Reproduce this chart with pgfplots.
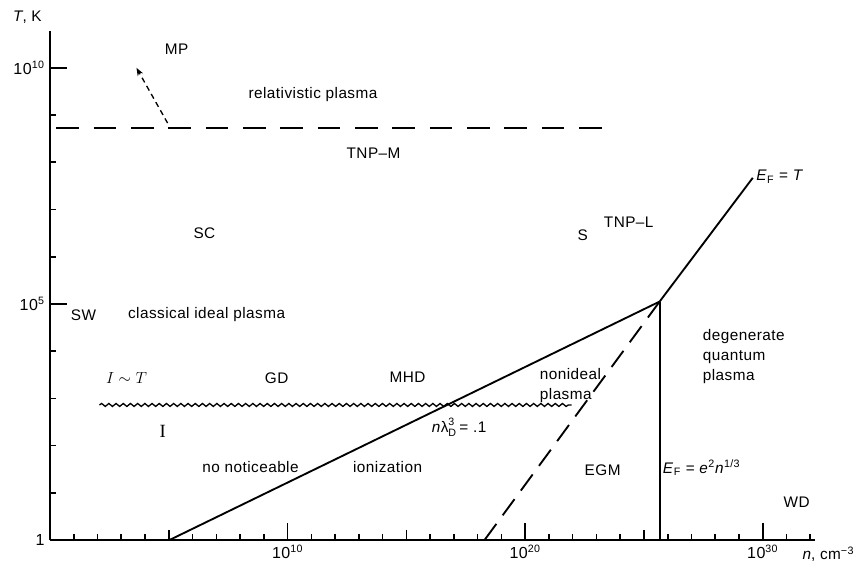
\documentclass[border=0pt]{standalone}
\usepackage{fontspec}
\setmainfont{Liberation Sans}[LetterSpace=3]
\newfontfamily\serifI{Liberation Serif}
\usepackage{pgfplots}
\pgfplotsset{compat=1.18}
\usetikzlibrary{calc,arrows.meta,decorations.pathmorphing}

\begin{document}
\fontsize{11.5}{15}\selectfont
\begin{tikzpicture}[font=\fontsize{11.5}{15}\selectfont]
\begin{axis}[name=ax, scale only axis, width=573.75pt, height=381.75pt,
  xmin=0, xmax=32.2, ymin=0, ymax=10.78,
  axis x line=bottom, axis y line=left,
  axis line style={-, line width=1.5pt},
  tick align=inside,
  tick label style={font=\fontsize{12}{14}\selectfont},
  xtick={10,20,30},
  xticklabels={10\textsuperscript{10},10\textsuperscript{20},10\textsuperscript{30}},
  minor xtick={1,2,3,4,6,7,8,9,11,12,13,14,16,17,18,19,21,22,23,24,26,27,28,29,31,32},
  extra x ticks={5,15,25}, extra x tick labels={},
  extra x tick style={major tick length=7.5pt},
  ytick={0,5,10},
  yticklabels={1,10\textsuperscript{5},10\textsuperscript{10}},
  minor ytick={1,2,3,4,6,7,8,9},
  major tick length=13pt, minor tick length=4.5pt,
  tick style={line width=1.2pt, black},
  clip=false,
]
% relativistic boundary
\addplot[line width=1.4pt, dash pattern=on 17pt off 11pt] coordinates {(0.27,8.73) (23.81,8.73)};
% MP arrow
\addplot[line width=1pt, dash pattern=on 4pt off 3pt, -{Stealth[length=6pt,width=4.5pt]}] coordinates {(4.95,8.83) (3.64,10.0)};
% n lambda_D^3 = .1 and E_F = T
\addplot[line width=1.4pt] coordinates {(5.03,0) (25.66,5.05) (29.58,7.67)};
% E_F = e^2 n^{1/3}
\addplot[line width=1.6pt] coordinates {(25.66,0) (25.66,5.05)};
% nonideal boundary
\addplot[line width=1.4pt, dash pattern=on 15pt off 8pt] coordinates {(18.29,0) (25.66,5.05)};
% I ~ T wavy line
\addplot[line width=1pt, decorate, decoration={snake, amplitude=1.1pt, segment length=5.4pt}] coordinates {(2.08,2.86) (21.96,2.86)};

\node at (axis cs:-0.95,11.08) {\textit{T}, K};
\node[anchor=west] at (axis cs:31.45,-0.30) {\textit{n}, cm\textsuperscript{−3}};

\node at (axis cs:5.33,10.40) {MP};
\node at (axis cs:11.07,9.43) {relativistic plasma};
\node at (axis cs:13.62,8.20) {TNP–M};
\node at (axis cs:6.5,6.50) {SC};
\node at (axis cs:22.42,6.46) {S};
\node at (axis cs:24.36,6.74) {TNP–L};
\node[anchor=west, inner sep=0pt] at (axis cs:29.72,7.69) {\textit{E}\textsubscript{F} = \textit{T}};
\node at (axis cs:1.41,4.77) {SW};
\node at (axis cs:6.59,4.77) {classical ideal plasma};
\node at (axis cs:3.22,3.43) {\fontsize{13}{15}\selectfont$I \sim T$};
\node at (axis cs:9.54,3.43) {GD};
\node at (axis cs:15.05,3.45) {MHD};
\node[anchor=west, inner sep=0pt, align=left] at (axis cs:20.61,3.28) {nonideal\\plasma};
\node[anchor=west, inner sep=0pt, align=left] at (axis cs:27.47,3.88) {degenerate\\quantum\\plasma};
\node[anchor=west, inner sep=0pt] at (axis cs:16.06,2.39) {\textit{n}$\mbox{λ}^{\mbox{\footnotesize 3}}_{\mbox{\footnotesize D}}$\,= .1};
\node at (axis cs:4.74,2.29) {\serifI\fontsize{14}{16}\selectfont I};
\node at (axis cs:8.44,1.55) {no noticeable};
\node at (axis cs:14.21,1.55) {ionization};
\node at (axis cs:23.26,1.48) {EGM};
\node[anchor=west, inner sep=0pt] at (axis cs:25.79,1.53) {\textit{E}\textsubscript{F} = \textit{e}\textsuperscript{2}\textit{n}\textsuperscript{1/3}};
\node at (axis cs:31.43,0.80) {WD};
\end{axis}
\pgfresetboundingbox
\path[use as bounding box] ($(ax.south west)+(-37.5pt,-18.75pt)$) rectangle ($(ax.north east)+(38.25pt,23.25pt)$);
\end{tikzpicture}
\end{document}
